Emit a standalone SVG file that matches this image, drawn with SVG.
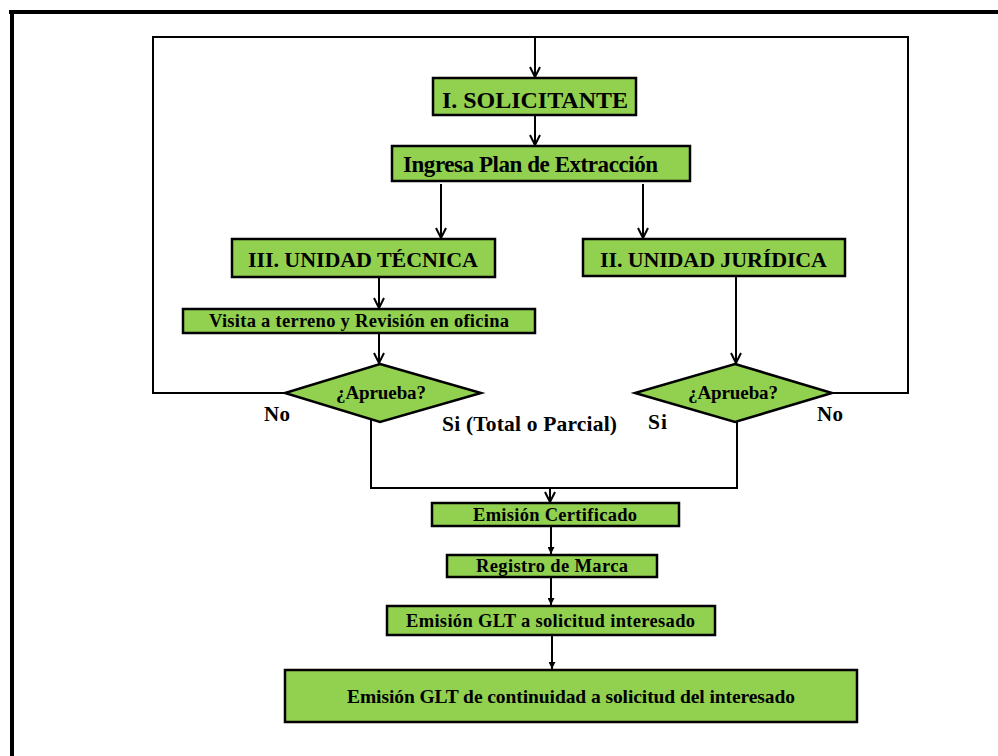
<svg xmlns="http://www.w3.org/2000/svg" width="998" height="756" viewBox="0 0 998 756">
<style>
.box{fill:#92D050;stroke:#000;stroke-width:2.5}
.t{font-family:"Liberation Serif","Times New Roman",serif;font-weight:bold;fill:#000;text-anchor:middle}
.lbl{font-family:"Liberation Serif","Times New Roman",serif;font-weight:bold;fill:#000}
.c{fill:none;stroke:#000;stroke-width:2}
.a{fill:none;stroke:#000;stroke-width:2;marker-end:url(#vee)}
.s{fill:none;stroke:#000;stroke-width:2;marker-end:url(#tri)}
</style>
<defs>
<marker id="vee" viewBox="0 0 12 12" refX="11" refY="6" markerWidth="6" markerHeight="6" markerUnits="strokeWidth" orient="auto">
<path d="M1,1 L11,6 L1,11" fill="none" stroke="#000" stroke-width="2"/>
</marker>
<marker id="tri" viewBox="0 0 10 10" refX="10" refY="5" markerWidth="3.5" markerHeight="3.5" markerUnits="strokeWidth" orient="auto">
<path d="M0,0 L10,5 L0,10 z" fill="#000"/>
</marker>
</defs>
<rect width="998" height="756" fill="#fff"/>
<g id="frame">
<path d="M9,12 H998 M12,10 V756" fill="none" stroke="#000" stroke-width="4"/>
</g>
<g id="connectors">
<path class="c" d="M285,393 H153 V37 H908 V393 H832"/>
<path class="a" d="M535,37 V77"/>
<path class="a" d="M535,115 V145"/>
<path class="a" d="M441,184 V238"/>
<path class="a" d="M643,184 V238"/>
<path class="a" d="M379,278 V308"/>
<path class="a" d="M379,334 V363"/>
<path class="a" d="M736,277 V363"/>
<path class="c" d="M371,420 V488 H737 V422"/>
<path class="a" d="M550,488 V502"/>
<path class="s" d="M551,527 V554"/>
<path class="s" d="M551,578 V605"/>
<path class="s" d="M552,636 V669"/>
</g>
<g id="solicitante">
<rect class="box" x="433" y="78" width="203" height="37"/>
<text class="t" x="535" y="108" font-size="24" textLength="186" lengthAdjust="spacing">I. SOLICITANTE</text>
</g>
<g id="ingresa">
<rect class="box" x="392" y="146" width="298" height="35"/>
<text class="t" x="530.5" y="172" font-size="23" textLength="255" lengthAdjust="spacing">Ingresa Plan de Extracción</text>
</g>
<g id="tecnica">
<rect class="box" x="232" y="239" width="263" height="38"/>
<text class="t" x="363" y="267" font-size="22" textLength="230" lengthAdjust="spacing">III. UNIDAD TÉCNICA</text>
</g>
<g id="juridica">
<rect class="box" x="583" y="239" width="262" height="37"/>
<text class="t" x="713.5" y="267" font-size="22" textLength="227" lengthAdjust="spacing">II. UNIDAD JURÍDICA</text>
</g>
<g id="visita">
<rect class="box" x="183" y="309" width="352" height="24"/>
<text class="t" x="359" y="327" font-size="18.5" textLength="300" lengthAdjust="spacing">Visita a terreno y Revisión en oficina</text>
</g>
<g id="aprueba1">
<polygon class="box" points="380,364 481,393 380,422 285,393"/>
<text class="t" x="381" y="399" font-size="19" textLength="90" lengthAdjust="spacing">¿Aprueba?</text>
</g>
<g id="aprueba2">
<polygon class="box" points="735,364 832,393 735,422 635,393"/>
<text class="t" x="733" y="399" font-size="19" textLength="90" lengthAdjust="spacing">¿Aprueba?</text>
</g>
<g id="labels">
<text class="lbl" x="264" y="421" font-size="21" textLength="26" lengthAdjust="spacing">No</text>
<text class="lbl" x="442" y="431" font-size="21.5" textLength="175" lengthAdjust="spacing">Si (Total o Parcial)</text>
<text class="lbl" x="648" y="429" font-size="21.5" textLength="19" lengthAdjust="spacing">Si</text>
<text class="lbl" x="817" y="421" font-size="21" textLength="26" lengthAdjust="spacing">No</text>
</g>
<g id="certificado">
<rect class="box" x="432" y="503" width="247" height="23"/>
<text class="t" x="555" y="521" font-size="18.5" textLength="164" lengthAdjust="spacing">Emisión Certificado</text>
</g>
<g id="registro">
<rect class="box" x="447" y="555" width="210" height="22"/>
<text class="t" x="552" y="572" font-size="18.5" textLength="152" lengthAdjust="spacing">Registro de Marca</text>
</g>
<g id="glt">
<rect class="box" x="387" y="606" width="328" height="29"/>
<text class="t" x="550.5" y="627" font-size="18.5" textLength="289" lengthAdjust="spacing">Emisión GLT a solicitud interesado</text>
</g>
<g id="continuidad">
<rect class="box" x="285" y="670" width="572" height="52"/>
<text class="t" x="571" y="703" font-size="19.5" textLength="448" lengthAdjust="spacing">Emisión GLT de continuidad a solicitud del interesado</text>
</g>
</svg>
